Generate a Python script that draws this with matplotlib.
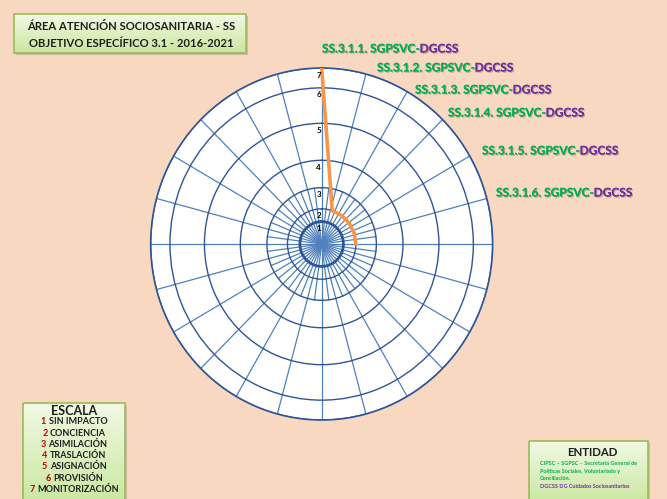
import numpy as np
import matplotlib
matplotlib.use("Agg")
from matplotlib import pyplot as plt
from matplotlib import patches, patheffects
from matplotlib.colors import LinearSegmentedColormap

# ---- data ----
categories = ["SS.3.1.1.", "SS.3.1.2.", "SS.3.1.3.", "SS.3.1.4.", "SS.3.1.5.", "SS.3.1.6."]
unit_a = "SGPSVC-"
unit_b = "DGCSS"
cat_angles = [0, 18, 36, 54, 72, 90]
values = [7, 2, 2, 2, 2, 2]
levels = [1, 2, 3, 4, 5, 6, 7]
# where each level ring sits along the radius (the grid is not linear)
ring_pos = [0.89, 1.40, 2.24, 3.33, 4.80, 6.21, 7.0]
scale_nums = ["1", "2", "3", "4", "5", "6", "7"]
scale_names = ["SIN IMPACTO", "CONCIENCIA", "ASIMILACIÓN", "TRASLACIÓN",
               "ASIGNACIÓN", "PROVISIÓN", "MONITORIZACIÓN"]
title_lines = ["ÁREA ATENCIÓN SOCIOSANITARIA - SS", "OBJETIVO ESPECÍFICO 3.1 - 2016-2021"]
entity_lines = ["CIPSC – SGPSC – Secretaría General de",
                "Políticas Sociales, Voluntariado y",
                "Conciliación.",
                "DGCSS DG Cuidados Sociosanitarios"]
entity_colors = ["#00b050", "#00b050", "#00b050", "#7030a0"]

W, H = 667, 499
BG = "#f9d8c1"
GREEN = "#00b050"
PURPLE = "#7030a0"
RED = "#c00000"
DARK = "#1e1e1e"
SPOKE = "#4f81bd"
RING = "#2f5597"

plt.rcParams["font.family"] = ["Lato", "DejaVu Sans"]
plt.rcParams["font.weight"] = "bold"

fig = plt.figure(figsize=(W / 100, H / 100), dpi=100, facecolor=BG)

lev0 = np.r_[0, levels]
pos0 = np.r_[0, ring_pos]


def fwd(v):
    return np.interp(v, lev0, pos0)


def inv(r):
    return np.interp(r, pos0, lev0)


# ---- polar grid ----
ax = fig.add_axes([0.2259, 0.1583, 0.5127, 0.7054], projection="polar")
ax.set_theta_zero_location("N")
ax.set_theta_direction(-1)
ax.set_rscale("function", functions=(fwd, inv))
ax.set_facecolor("white")

spokes = np.deg2rad(np.arange(0, 360, 15))
ax.set_xticks(spokes)
ax.set_xticklabels([""] * len(spokes))
ax.set_yticks(levels)
ax.set_yticklabels([""] * len(levels))
ax.xaxis.grid(True, color=SPOKE, lw=0.9)
ax.yaxis.grid(True, color=RING, lw=1.0)
ax.tick_params(length=0)
ax.spines["polar"].set_color(RING)
ax.spines["polar"].set_linewidth(1.2)

# extra spokes around the centre
for a in np.arange(7.5, 360, 15):
    ax.plot([np.deg2rad(a)] * 2, [0, levels[2]], color=SPOKE, lw=0.9, zorder=1)

th = np.linspace(0, 2 * np.pi, 361)
ax.plot(th, np.full_like(th, levels[0]), color=RING, lw=2.0, zorder=2)

ln, = ax.plot(np.deg2rad(cat_angles), values, color="#f79646", lw=2.6,
              solid_joinstyle="round", zorder=5)
ln.get_path()._interpolation_steps = 1

for lev in levels:
    ax.annotate(str(lev), xy=(0, lev), xytext=(-3, -7), textcoords="offset pixels",
                ha="center", va="center", fontsize=5.8, fontweight="bold", color="black",
                zorder=6)

ax.set_rlim(0, 7)
ax.set_aspect("auto")

# ---- overlay for boxes and labels ----
ov = fig.add_axes([0, 0, 1, 1])
ov.patch.set_alpha(0)
ov.axis("off")

green_cmap = LinearSegmentedColormap.from_list("g", ["#f1f9e4", "#c9e79f"])


def green_box(x0, y0, x1, y1):
    shadow = patches.Rectangle((x0 + 2, y0 + 2), x1 - x0, y1 - y0, fc="#7f7f7f",
                               ec="none", alpha=0.35, zorder=1)
    ov.add_patch(shadow)
    box = patches.Rectangle((x0, y0), x1 - x0, y1 - y0, fc="none", ec="#9bbb59",
                            lw=1.2, zorder=3)
    ov.add_patch(box)
    grad = np.linspace(0, 1, 64).reshape(-1, 1)
    im = ov.imshow(grad, extent=(x0, x1, y1, y0), cmap=green_cmap, aspect="auto",
                   zorder=2, interpolation="bilinear")
    im.set_clip_path(box)


green_box(14, 14, 246, 53)
green_box(23, 403, 125, 505)
green_box(529, 441, 648, 505)

# title
for txt, y in zip(title_lines, [26, 43]):
    ov.text(131, y, txt, ha="center", va="center", fontsize=8.1, fontweight="bold",
            color=DARK, zorder=4)

# category labels
label_xy = [(322, 49), (377, 68), (415, 90), (448, 113), (482, 151), (496, 193)]
shadow_fx = [patheffects.withSimplePatchShadow(offset=(0.8, -0.8), shadow_rgbFace="black",
                                               alpha=0.25), patheffects.Normal()]
for cat, (x, y) in zip(categories, label_xy):
    t1 = ov.text(x, y, f"{cat} {unit_a}", ha="left", va="center", fontsize=8.6,
                 fontweight="bold", color=GREEN, zorder=4, path_effects=shadow_fx)
    ov.annotate(unit_b, xy=(1, 0), xycoords=t1, ha="left", va="bottom", fontsize=8.6,
                fontweight="bold", color=PURPLE, zorder=4, path_effects=shadow_fx)

# scale box
ov.text(74, 411, "ESCALA", ha="center", va="center", fontsize=9.0, fontweight="bold",
        color=DARK, zorder=4)
scale_y = [421.7, 433.0, 444.3, 455.6, 466.9, 478.2, 489.5]
for num, name, y in zip(scale_nums, scale_names, scale_y):
    full = ov.text(74, y, f"{num} {name}", ha="center", va="center", fontsize=6.5,
                   fontweight="bold", alpha=0, zorder=4)
    tn = ov.annotate(num, xy=(0, 0), xycoords=full, ha="left", va="bottom",
                     fontsize=6.5, fontweight="bold", color=RED, zorder=4)
    ov.annotate(name, xy=(1, 0), xycoords=tn, xytext=(2.5, 0), textcoords="offset pixels",
                ha="left", va="bottom", fontsize=6.5, fontweight="bold", color=DARK,
                zorder=4)

# entity box
ov.text(592, 452, "ENTIDAD", ha="center", va="center", fontsize=8.2, fontweight="bold",
        color=DARK, zorder=4)
for txt, col, y in zip(entity_lines, entity_colors, [463.3, 471.5, 478.6, 487.0]):
    ov.text(540, y, txt, ha="left", va="center", fontsize=4.0, fontweight="bold",
            color=col, zorder=4)

ov.set_xlim(0, W)
ov.set_ylim(H, 0)

fig.savefig("out.png", dpi=100, facecolor=BG)
